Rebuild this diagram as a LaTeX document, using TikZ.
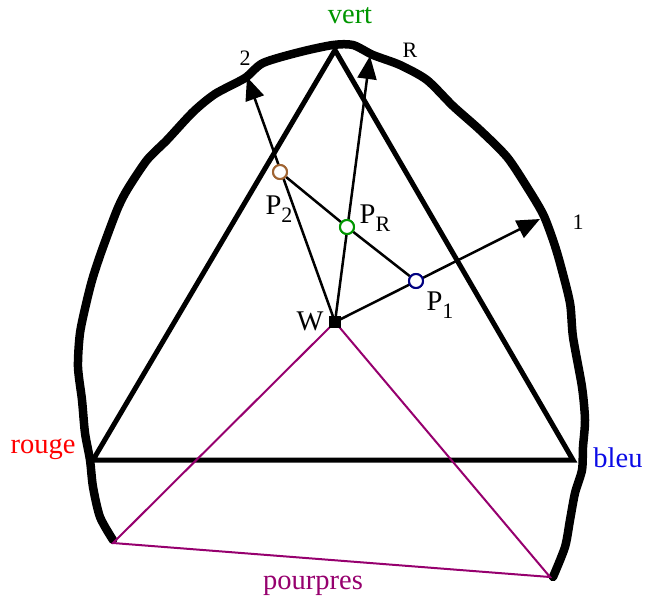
\documentclass[tikz,border=0pt]{standalone}
\usepackage{fontspec}
\setmainfont{Liberation Serif}
\usetikzlibrary{arrows.meta}
\definecolor{vertc}{RGB}{0,150,0}
\definecolor{rougec}{RGB}{255,0,0}
\definecolor{bleuc}{RGB}{10,10,230}
\definecolor{pourprec}{RGB}{150,0,110}
\definecolor{brunc}{RGB}{160,100,50}
\definecolor{navyc}{RGB}{0,0,128}
\newcommand\Psub[1]{P\raisebox{-0.28em}{\fontsize{22}{22}\selectfont #1}}
\tikzset{
  big/.style={font=\fontsize{28.5}{28.5}\selectfont, inner sep=0pt},
  small/.style={font=\fontsize{22}{22}\selectfont, inner sep=0pt},
  tri/.style={line width=5pt, line join=miter},
  outer/.style={line width=8.5pt, line join=round, line cap=round},
  ray/.style={line width=2.5pt, -{Triangle[length=23pt,width=19pt]}},
  thin/.style={line width=2.5pt},
  purp/.style={line width=2pt, draw=pourprec},
  ptc/.style={circle, draw, fill=white, line width=2pt, minimum size=14pt, inner sep=0pt},
  wsq/.style={rectangle, fill=black, minimum size=12pt, inner sep=0pt}
}
\begin{document}
\begin{tikzpicture}[x=1pt,y=-1pt]
\useasboundingbox (0,0) rectangle (645,603);
% coordinates
\coordinate (V) at (335,50);
\coordinate (Rg) at (93,460);
\coordinate (Bl) at (573,460);
\coordinate (Pa) at (113,543);
\coordinate (Pb) at (550,577);
\coordinate (t2) at (247,77);
\coordinate (tR) at (370,56);
\coordinate (t1) at (540,219);
% outer boundary
\draw[outer] plot[smooth, tension=0.45] coordinates {
 (113,540) (100,517) (93,487) (90,460) (85,433) (82,400) (78,367) (80,333)
 (87,300) (93,277) (102,250) (117,210) (127,190) (147,160) (167,140) (193,112)
 (215,94) (245,78) (263,63) (300,52) (333,45) (353,45) (373,55) (400,65)
 (427,80) (453,106) (480,130) (507,157) (527,187) (543,214) (553,240) (560,263)
 (570,303) (573,337) (582,387) (585,420) (583,447) (582,470) (575,493) (570,520)
 (565,547) (553,577)};
% triangle
\draw[tri] (V) -- (Rg) -- (Bl) -- cycle;
% W node
\node[wsq] (W) at (335,322) {};
% purple
\draw[purp] (W.center) -- (Pa) -- (Pb) -- (W.center);
% rays
\draw[ray] (W.center) -- (t2);
\draw[ray] (W.center) -- (tR);
\draw[ray] (W.center) -- (t1);
% points
\node[ptc, draw=brunc] (P2) at (280,172) {};
\node[ptc, draw=vertc] (PR) at (347,227) {};
\node[ptc, draw=navyc] (P1) at (416,281) {};
\draw[thin] (P2) -- (PR);
\draw[thin] (PR) -- (P1);
\node[ptc, draw=brunc] at (P2) {};
\node[ptc, draw=vertc] at (PR) {};
\node[ptc, draw=navyc] at (P1) {};
\node[wsq] at (W) {};
% labels
\node[big, text=vertc] (lv) at (350,16) {vert};
\node[big, text=rougec] (lr) at (43,449) {rouge};
\node[big, text=bleuc] (lb) at (618,458) {bleu};
\node[big, text=pourprec] (lp) at (313,586) {pourpres};
\node[small] (l2) at (245,58) {2};
\node[small] (lR) at (410,50) {R};
\node[small] (l1) at (578,222) {1};
\node[big] (lW) at (310,321) {W};
\node[big] (lP2) at (279,209) {\Psub{2}};
\node[big] (lPR) at (375,218) {\Psub{R}};
\node[big] (lP1) at (440,305) {\Psub{1}};
\end{tikzpicture}
\end{document}
